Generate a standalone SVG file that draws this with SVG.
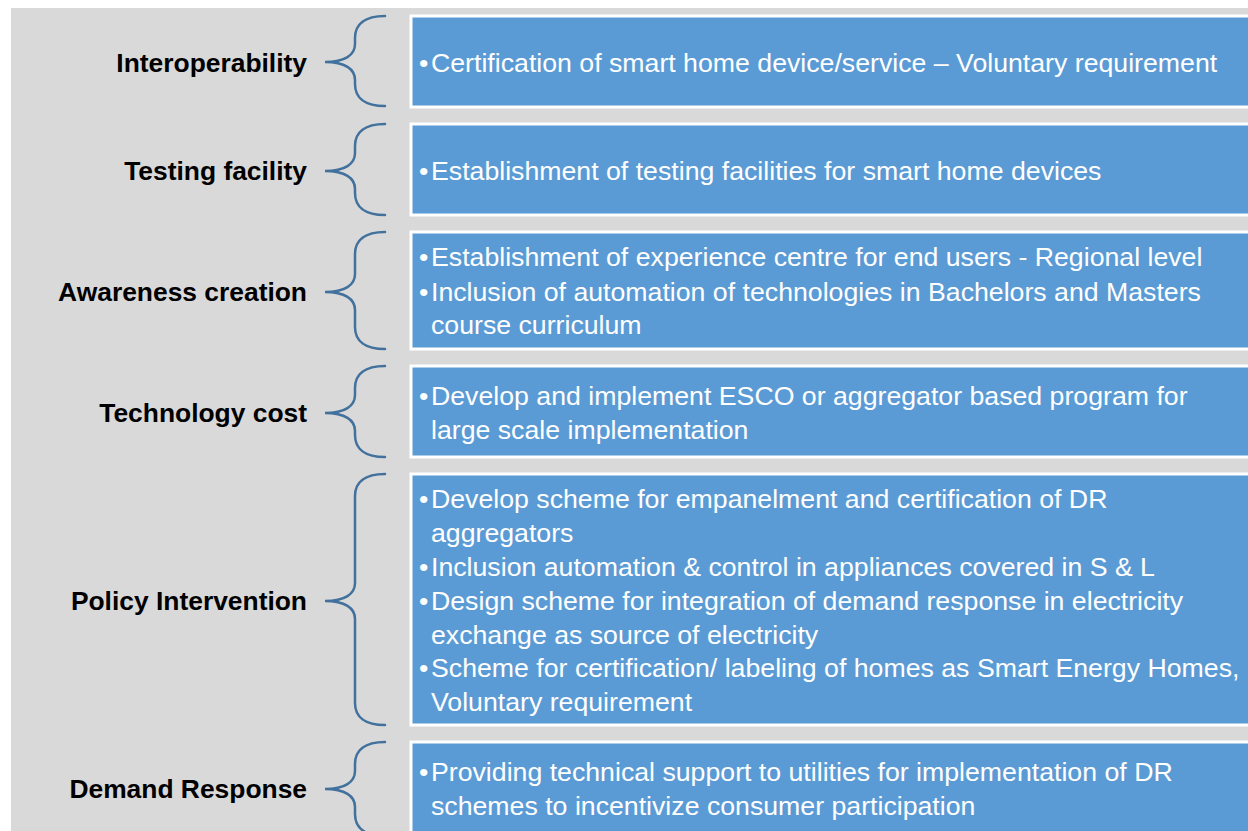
<svg xmlns="http://www.w3.org/2000/svg" width="1248" height="831" viewBox="0 0 1248 831">
<style>
.lbl{font-family:"Liberation Sans",Arial,sans-serif;font-weight:bold;font-size:26.4px;fill:#000;text-anchor:end}
.box{fill:#5B9BD5;stroke:#FFFFFF;stroke-width:3}
.txt{font-family:"Liberation Sans",Arial,sans-serif;font-size:26.7px;fill:#FFFFFF}
.brace{fill:none;stroke:#41719C;stroke-width:2.5;stroke-linecap:round}
</style>
<rect x="0" y="0" width="1248" height="831" fill="#FFFFFF"/>
<rect x="11" y="8" width="1237" height="823" fill="#D9D9D9"/>
<g id="connectors">
<path class="brace" d="M385,16 C365,16 355,24 355,38 L355,44 C355,55 345,62 325,62 C345,62 355,69 355,80 L355,84 C355,98 365,106 385,106"/>
<path class="brace" d="M385,124 C365,124 355,132 355,146 L355,153 C355,164 345,171 325,171 C345,171 355,178 355,189 L355,193 C355,207 365,215 385,215"/>
<path class="brace" d="M385,232 C365,232 355,240 355,254 L355,274 C355,285 345,292 325,292 C345,292 355,299 355,310 L355,327 C355,341 365,349 385,349"/>
<path class="brace" d="M385,366 C365,366 355,374 355,388 L355,395 C355,406 345,413 325,413 C345,413 355,420 355,431 L355,435 C355,449 365,457 385,457"/>
<path class="brace" d="M385,474 C365,474 355,482 355,496 L355,583 C355,594 345,601 325,601 C345,601 355,608 355,619 L355,703 C355,717 365,725 385,725"/>
<path class="brace" d="M385,742 C365,742 355,750 355,764 L355,771 C355,782 345,789 325,789 C345,789 355,796 355,807 L355,814 C355,828 365,836 385,836"/>
</g>
<g id="node-interoperability">
<text class="lbl" x="307" y="72">Interoperability</text>
<rect class="box" x="411" y="16" width="850" height="91"/>
<text class="txt" y="72"><tspan x="419">•</tspan><tspan x="431">Certification of smart home device/service – Voluntary requirement</tspan></text>
</g>
<g id="node-testing">
<text class="lbl" x="307" y="180">Testing facility</text>
<rect class="box" x="411" y="124" width="850" height="91"/>
<text class="txt" y="180"><tspan x="419">•</tspan><tspan x="431">Establishment of testing facilities for smart home devices</tspan></text>
</g>
<g id="node-awareness">
<text class="lbl" x="307" y="301">Awareness creation</text>
<rect class="box" x="411" y="232" width="850" height="117"/>
<text class="txt" y="266"><tspan x="419">•</tspan><tspan x="431">Establishment of experience centre for end users - Regional level</tspan></text>
<text class="txt" y="301"><tspan x="419">•</tspan><tspan x="431">Inclusion of automation of technologies in Bachelors and Masters</tspan></text>
<text class="txt" x="431" y="334">course curriculum</text>
</g>
<g id="node-techcost">
<text class="lbl" x="307" y="422">Technology cost</text>
<rect class="box" x="411" y="366" width="850" height="91"/>
<text class="txt" y="405"><tspan x="419">•</tspan><tspan x="431">Develop and implement ESCO or aggregator based program for</tspan></text>
<text class="txt" x="431" y="439">large scale implementation</text>
</g>
<g id="node-policy">
<text class="lbl" x="307" y="610">Policy Intervention</text>
<rect class="box" x="411" y="474" width="850" height="251"/>
<text class="txt" y="508"><tspan x="419">•</tspan><tspan x="431">Develop scheme for empanelment and certification of DR</tspan></text>
<text class="txt" x="431" y="542">aggregators</text>
<text class="txt" y="576"><tspan x="419">•</tspan><tspan x="431">Inclusion automation &amp; control in appliances covered in S &amp; L</tspan></text>
<text class="txt" y="610"><tspan x="419">•</tspan><tspan x="431">Design scheme for integration of demand response in electricity</tspan></text>
<text class="txt" x="431" y="644">exchange as source of electricity</text>
<text class="txt" y="677"><tspan x="419">•</tspan><tspan x="431">Scheme for certification/ labeling of homes as Smart Energy Homes,</tspan></text>
<text class="txt" x="431" y="711">Voluntary requirement</text>
</g>
<g id="node-demand">
<text class="lbl" x="307" y="798">Demand Response</text>
<rect class="box" x="411" y="742" width="850" height="120"/>
<text class="txt" y="781"><tspan x="419">•</tspan><tspan x="431">Providing technical support to utilities for implementation of DR</tspan></text>
<text class="txt" x="431" y="815">schemes to incentivize consumer participation</text>
</g>
</svg>
